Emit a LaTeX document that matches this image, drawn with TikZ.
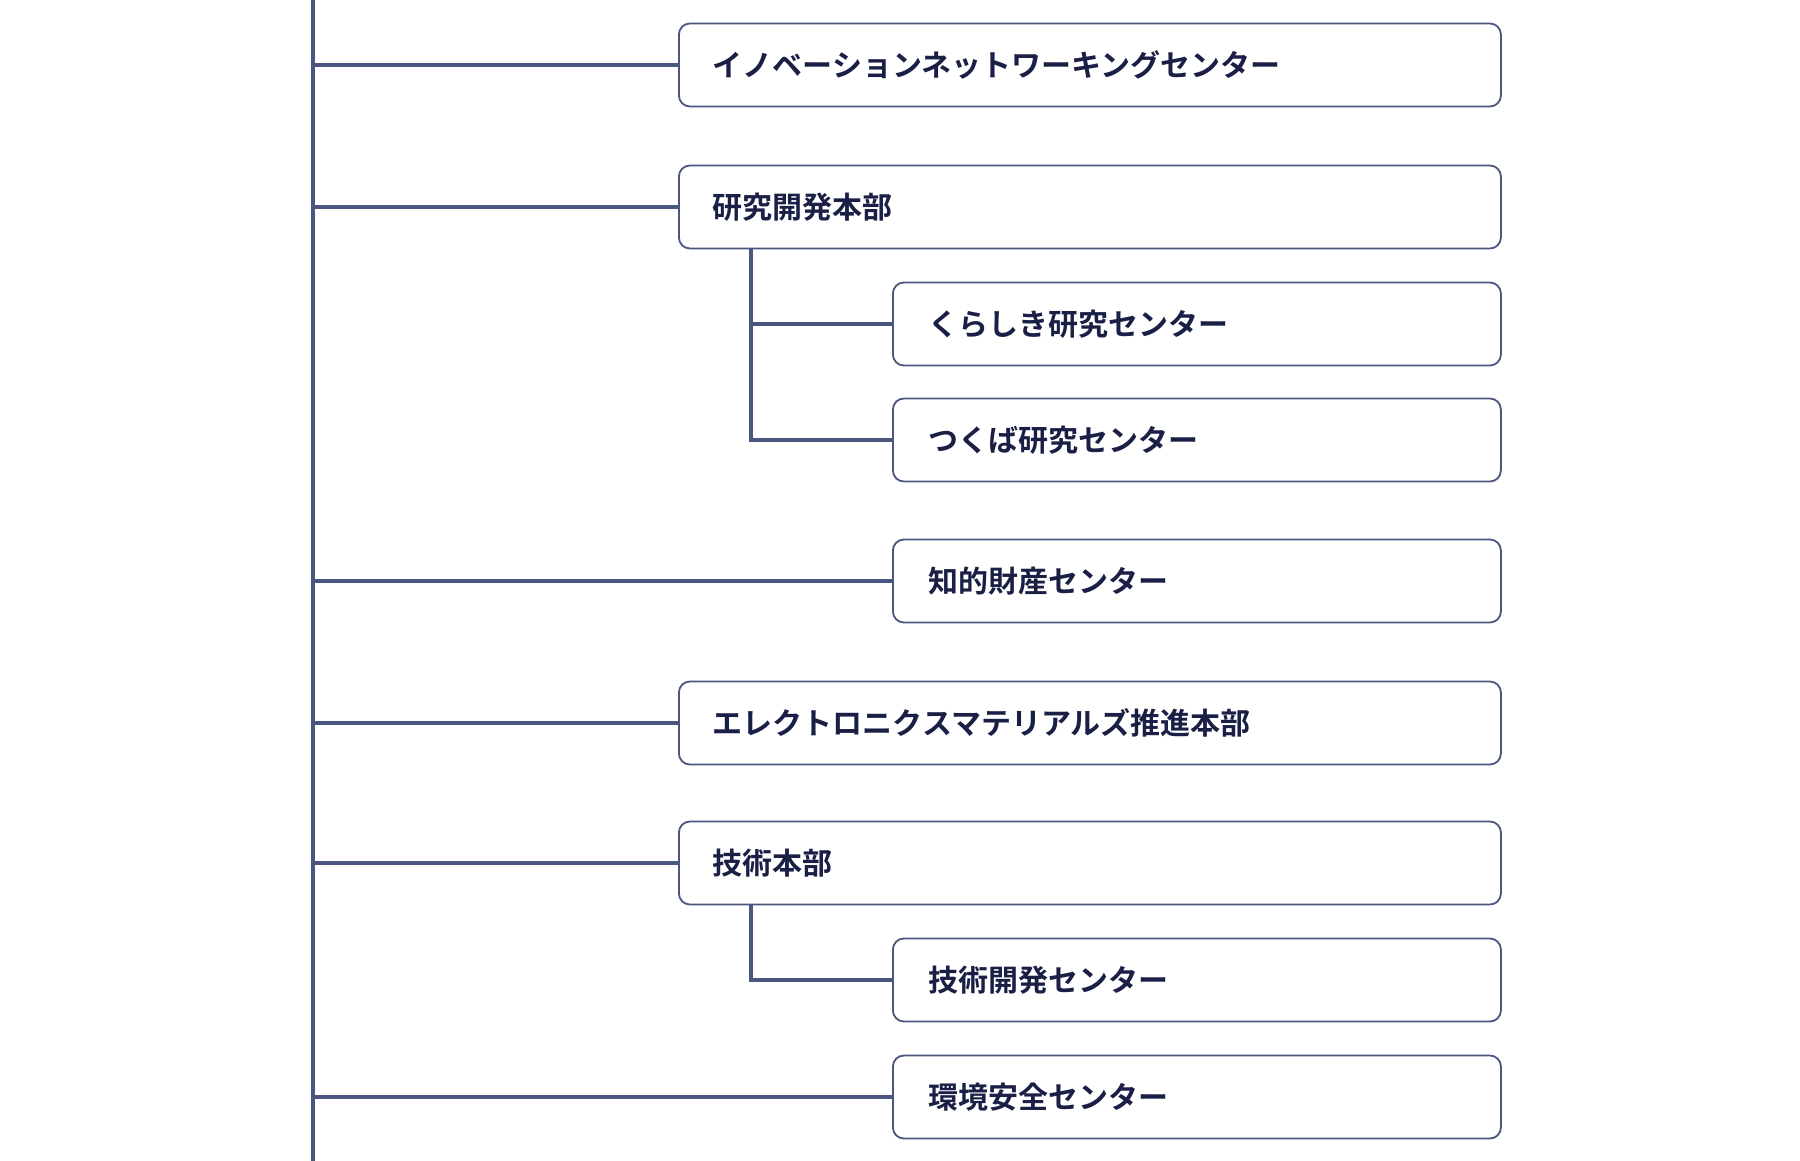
\documentclass[tikz,border=0pt]{standalone}
\usepackage{fontspec}
\newfontfamily\cjk{Noto Sans CJK JP Bold}
\definecolor{ln}{HTML}{4A5580}
\definecolor{tx}{HTML}{1A1F45}
\begin{document}
\begin{tikzpicture}[x=1pt,y=-1pt,
  bx/.style={draw=ln,line width=1.8pt,rounded corners=11pt,minimum height=83pt,anchor=west,inner sep=0pt,text=tx,font=\cjk\fontsize{30}{36}\selectfont,align=left,text width=#1},
  cn/.style={draw=ln,line width=3.5pt}]
\useasboundingbox (0,0) rectangle (1800,1161);
\coordinate (top) at (313,0);
\coordinate (bot) at (313,1161);
\draw[cn] (top)--(bot);
\def\A{678}\def\B{892}
\node[bx=822pt] (n1) at (\A,65) {\hspace*{34pt}イノベーションネットワーキングセンター};
\node[bx=822pt] (n2) at (\A,207) {\hspace*{34pt}研究開発本部};
\node[bx=608pt] (n3) at (\B,324) {\hspace*{36pt}くらしき研究センター};
\node[bx=608pt] (n4) at (\B,440) {\hspace*{36pt}つくば研究センター};
\node[bx=608pt] (n5) at (\B,581) {\hspace*{36pt}知的財産センター};
\node[bx=822pt] (n6) at (\A,723) {\hspace*{34pt}エレクトロニクスマテリアルズ推進本部};
\node[bx=822pt] (n7) at (\A,863) {\hspace*{34pt}技術本部};
\node[bx=608pt] (n8) at (\B,980) {\hspace*{36pt}技術開発センター};
\node[bx=608pt] (n9) at (\B,1097) {\hspace*{36pt}環境安全センター};
\foreach \n in {n1,n2,n5,n6,n7,n9} \draw[cn] (\n.west -| top) -- (\n.west);
\draw[cn] (751,248.5) |- (n4.west);
\draw[cn] (751,324) -- (n3.west);
\draw[cn] (751,904.5) |- (n8.west);
\end{tikzpicture}
\end{document}
